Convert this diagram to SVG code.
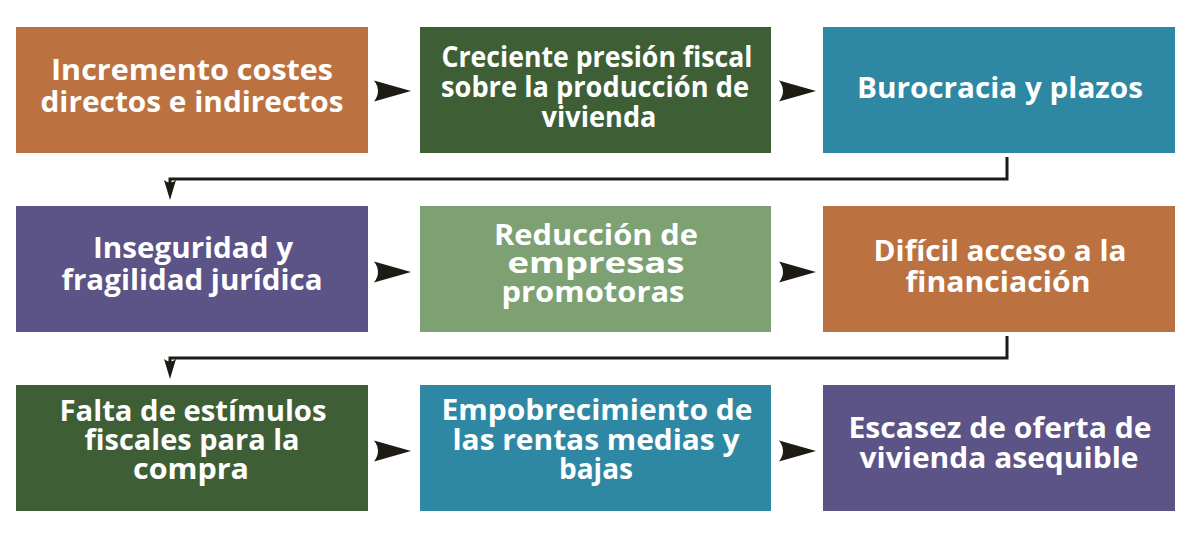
<svg xmlns="http://www.w3.org/2000/svg" width="1200" height="539" viewBox="0 0 1200 539">
<style>
.t{font-family:"Open Sans","Liberation Sans",sans-serif;font-weight:700;font-size:29px;fill:#ffffff;text-anchor:middle}
.ln{fill:none;stroke:#1e1a14;stroke-width:3}
.ah{fill:#1e1a14}
</style>
<defs>
<path id="ar" d="M0 -10.5 L37 0 L0 10.5 Q8 0 0 -10.5 Z"/>
<path id="ad" d="M-6 0 L0 20 L6 0 Q0 5 -6 0 Z"/>
</defs>
<rect width="1200" height="539" fill="#ffffff"/>

<g id="n1"><rect x="16" y="27" width="352" height="126" fill="#bc7240"/>
<text class="t" x="192" y="80" textLength="282" lengthAdjust="spacingAndGlyphs">Incremento costes</text>
<text class="t" x="192" y="112" textLength="303" lengthAdjust="spacingAndGlyphs">directos e indirectos</text></g>

<g id="n2"><rect x="420" y="27" width="351" height="126" fill="#3e5f36"/>
<text class="t" x="597" y="67" textLength="311" lengthAdjust="spacingAndGlyphs">Creciente presión fiscal</text>
<text class="t" x="595" y="97" textLength="308" lengthAdjust="spacingAndGlyphs">sobre la producción de</text>
<text class="t" x="599" y="127" textLength="115" lengthAdjust="spacingAndGlyphs">vivienda</text></g>

<g id="n3"><rect x="823" y="27" width="352" height="126" fill="#2e88a3"/>
<text class="t" x="1000" y="98" textLength="286" lengthAdjust="spacingAndGlyphs">Burocracia y plazos</text></g>

<g id="n4"><rect x="16" y="206" width="352" height="126" fill="#5c5387"/>
<text class="t" x="193" y="258" textLength="200" lengthAdjust="spacingAndGlyphs">Inseguridad y</text>
<text class="t" x="192" y="290" textLength="261" lengthAdjust="spacingAndGlyphs">fragilidad jurídica</text></g>

<g id="n5"><rect x="420" y="206" width="351" height="126" fill="#7ea174"/>
<text class="t" x="596" y="245" textLength="204" lengthAdjust="spacingAndGlyphs">Reducción de</text>
<text class="t" x="596" y="273" textLength="177" lengthAdjust="spacingAndGlyphs">empresas</text>
<text class="t" x="593" y="302" textLength="183" lengthAdjust="spacingAndGlyphs">promotoras</text></g>

<g id="n6"><rect x="823" y="206" width="352" height="126" fill="#bc7240"/>
<text class="t" x="1000" y="261" textLength="253" lengthAdjust="spacingAndGlyphs">Difícil acceso a la</text>
<text class="t" x="998" y="292" textLength="185" lengthAdjust="spacingAndGlyphs">financiación</text></g>

<g id="n7"><rect x="16" y="385" width="352" height="126" fill="#3e5f36"/>
<text class="t" x="193" y="421" textLength="267" lengthAdjust="spacingAndGlyphs">Falta de estímulos</text>
<text class="t" x="192" y="450" textLength="215" lengthAdjust="spacingAndGlyphs">fiscales para la</text>
<text class="t" x="191" y="479" textLength="116" lengthAdjust="spacingAndGlyphs">compra</text></g>

<g id="n8"><rect x="420" y="385" width="351" height="126" fill="#2e88a3"/>
<text class="t" x="597" y="420" textLength="311" lengthAdjust="spacingAndGlyphs">Empobrecimiento de</text>
<text class="t" x="596" y="450" textLength="287" lengthAdjust="spacingAndGlyphs">las rentas medias y</text>
<text class="t" x="596" y="479" textLength="74" lengthAdjust="spacingAndGlyphs">bajas</text></g>

<g id="n9"><rect x="823" y="385" width="352" height="126" fill="#5c5387"/>
<text class="t" x="1000" y="438" textLength="303" lengthAdjust="spacingAndGlyphs">Escasez de oferta de</text>
<text class="t" x="999" y="468" textLength="279" lengthAdjust="spacingAndGlyphs">vivienda asequible</text></g>

<g id="connectors">
<use href="#ar" class="ah" x="374" y="91"/>
<use href="#ar" class="ah" x="779" y="91"/>
<use href="#ar" class="ah" x="374" y="272"/>
<use href="#ar" class="ah" x="779" y="272"/>
<use href="#ar" class="ah" x="374" y="451"/>
<use href="#ar" class="ah" x="779" y="451"/>
<path class="ln" d="M1007 157 V179 H170 V186"/>
<use href="#ad" class="ah" x="170" y="180"/>
<path class="ln" d="M1007 336 V358 H170 V365"/>
<use href="#ad" class="ah" x="170" y="359"/>
</g>
</svg>
